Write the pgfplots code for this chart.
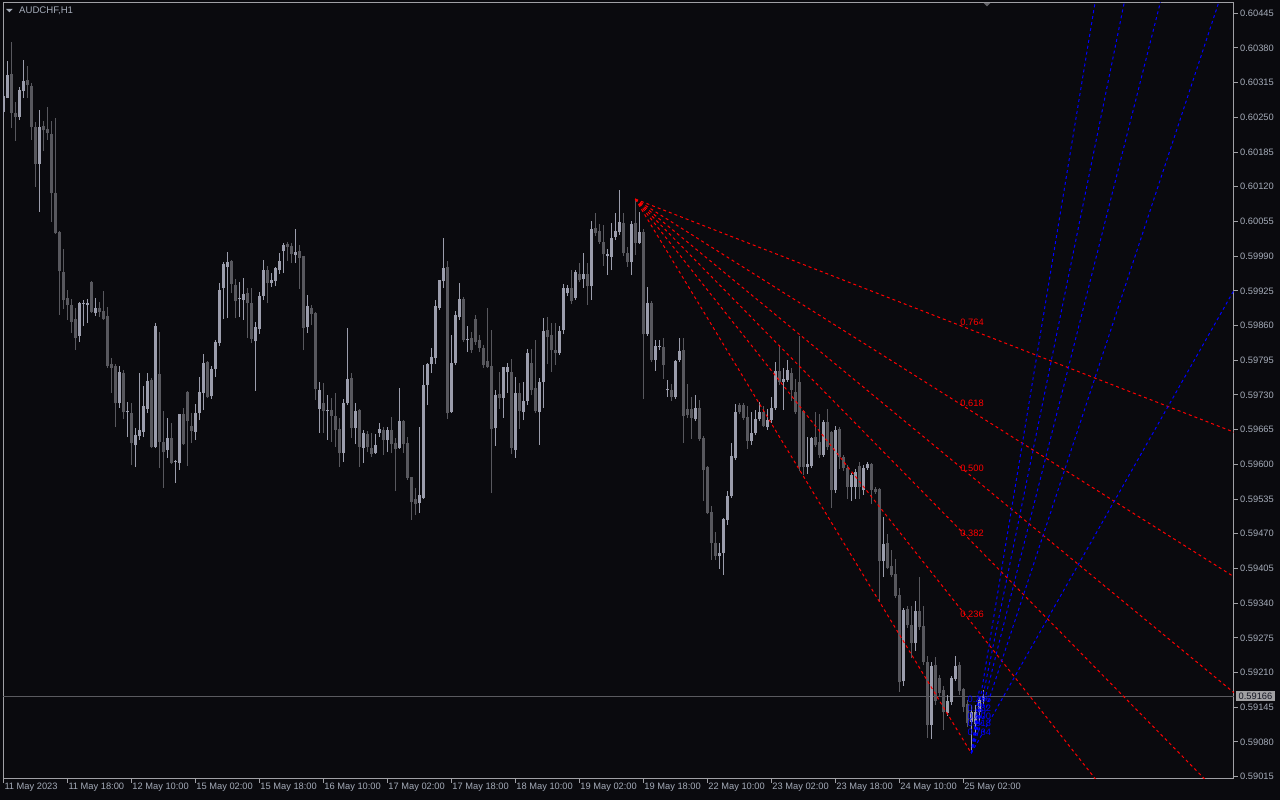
\documentclass[border=0pt]{standalone}
\usepackage{fontspec}
\setmainfont{Liberation Sans}
\usepackage{pgfplots}
\pgfplotsset{compat=1.18}
\usepackage{pgfplotstable}
\definecolor{bg}{RGB}{10,10,14}
\definecolor{framec}{RGB}{160,160,165}
\definecolor{txt}{RGB}{165,172,185}
\definecolor{bull}{RGB}{155,157,172}
\definecolor{bear}{RGB}{88,88,94}
\definecolor{pline}{RGB}{90,90,95}
\definecolor{boxc}{RGB}{160,160,162}
\definecolor{boxt}{RGB}{20,22,34}
\definecolor{fred}{RGB}{255,0,0}
\definecolor{fblue}{RGB}{0,0,255}
\tikzset{
  fanred/.style={draw=fred, line width=1pt, dash pattern=on 3pt off 3pt},
  fanblue/.style={draw=fblue, line width=1pt, dash pattern=on 3pt off 3pt},
  fanlab/.style={anchor=south, inner sep=0pt, yshift=4.5pt, font=\fontsize{9.3}{11}\selectfont, text=fred},
  fanlabb/.style={anchor=south, inner sep=0pt, yshift=1.5pt, font=\fontsize{9.3}{11}\selectfont, text=fblue},
}
\pgfplotstableread{
i o h l c
0 0.60261 0.60305 0.60251 0.60289
1 0.60287 0.60356 0.60286 0.60328
2 0.60330 0.60391 0.60230 0.60259
3 0.60258 0.60279 0.60206 0.60251
4 0.60251 0.60307 0.60245 0.60301
5 0.60300 0.60358 0.60286 0.60318
6 0.60320 0.60346 0.60286 0.60311
7 0.60309 0.60314 0.60208 0.60232
8 0.60232 0.60241 0.60120 0.60163
9 0.60163 0.60264 0.60073 0.60232
10 0.60234 0.60243 0.60187 0.60226
11 0.60228 0.60270 0.60208 0.60221
12 0.60219 0.60243 0.60054 0.60108
13 0.60108 0.60249 0.60032 0.60033
14 0.60035 0.60037 0.59880 0.59962
15 0.59960 0.60004 0.59891 0.59908
16 0.59912 0.59927 0.59871 0.59899
17 0.59899 0.59910 0.59846 0.59867
18 0.59871 0.59893 0.59814 0.59837
19 0.59841 0.59904 0.59829 0.59902
20 0.59901 0.59908 0.59859 0.59902
21 0.59900 0.59910 0.59865 0.59901
22 0.59942 0.59944 0.59884 0.59886
23 0.59884 0.59912 0.59878 0.59893
24 0.59893 0.59904 0.59876 0.59886
25 0.59887 0.59925 0.59871 0.59872
26 0.59878 0.59895 0.59781 0.59784
27 0.59788 0.59799 0.59734 0.59781
28 0.59784 0.59788 0.59670 0.59715
29 0.59715 0.59784 0.59706 0.59773
30 0.59771 0.59777 0.59685 0.59698
31 0.59698 0.59717 0.59651 0.59699
32 0.59696 0.59715 0.59599 0.59640
33 0.59636 0.59668 0.59595 0.59655
34 0.59653 0.59771 0.59646 0.59663
35 0.59661 0.59747 0.59651 0.59708
36 0.59704 0.59771 0.59696 0.59756
37 0.59758 0.59762 0.59631 0.59633
38 0.59633 0.59865 0.59631 0.59859
39 0.59769 0.59848 0.59593 0.59642
40 0.59642 0.59700 0.59556 0.59623
41 0.59627 0.59687 0.59612 0.59648
42 0.59648 0.59678 0.59601 0.59603
43 0.59605 0.59608 0.59565 0.59606
44 0.59603 0.59694 0.59590 0.59693
45 0.59693 0.59706 0.59636 0.59638
46 0.59736 0.59737 0.59597 0.59681
47 0.59672 0.59696 0.59640 0.59663
48 0.59661 0.59713 0.59646 0.59696
49 0.59696 0.59764 0.59683 0.59736
50 0.59734 0.59807 0.59702 0.59790
51 0.59792 0.59794 0.59724 0.59726
52 0.59728 0.59784 0.59723 0.59779
53 0.59779 0.59833 0.59764 0.59829
54 0.59827 0.59940 0.59822 0.59927
55 0.59930 0.59979 0.59872 0.59974
56 0.59970 0.59998 0.59874 0.59979
57 0.59981 0.59983 0.59921 0.59938
58 0.59936 0.59947 0.59874 0.59906
59 0.59910 0.59942 0.59876 0.59911
60 0.59908 0.59949 0.59871 0.59919
61 0.59921 0.59930 0.59837 0.59902
62 0.59902 0.59930 0.59827 0.59835
63 0.59831 0.59867 0.59738 0.59856
64 0.59854 0.59923 0.59844 0.59915
65 0.59915 0.59983 0.59908 0.59964
66 0.59964 0.59972 0.59902 0.59940
67 0.59940 0.59959 0.59932 0.59944
68 0.59944 0.59969 0.59934 0.59968
69 0.59964 0.59996 0.59957 0.59981
70 0.60000 0.60015 0.59959 0.60011
71 0.60013 0.60017 0.59981 0.60007
72 0.60009 0.60015 0.59977 0.59994
73 0.59992 0.60041 0.59977 0.59998
74 0.60000 0.60011 0.59929 0.59987
75 0.59989 0.59990 0.59814 0.59856
76 0.59857 0.59917 0.59846 0.59897
77 0.59893 0.59899 0.59861 0.59882
78 0.59884 0.59886 0.59721 0.59741
79 0.59705 0.59754 0.59659 0.59739
80 0.59715 0.59753 0.59659 0.59700
81 0.59700 0.59730 0.59646 0.59702
82 0.59702 0.59724 0.59642 0.59691
83 0.59691 0.59734 0.59633 0.59665
84 0.59666 0.59687 0.59595 0.59621
85 0.59621 0.59723 0.59605 0.59715
86 0.59715 0.59856 0.59711 0.59760
87 0.59762 0.59771 0.59650 0.59668
88 0.59668 0.59715 0.59638 0.59700
89 0.59702 0.59703 0.59595 0.59633
90 0.59631 0.59665 0.59603 0.59659
91 0.59657 0.59663 0.59623 0.59633
92 0.59631 0.59659 0.59614 0.59620
93 0.59621 0.59657 0.59620 0.59636
94 0.59659 0.59678 0.59651 0.59666
95 0.59663 0.59670 0.59618 0.59646
96 0.59646 0.59670 0.59623 0.59663
97 0.59663 0.59689 0.59621 0.59638
98 0.59640 0.59650 0.59550 0.59629
99 0.59631 0.59743 0.59629 0.59681
100 0.59681 0.59683 0.59621 0.59638
101 0.59640 0.59651 0.59571 0.59575
102 0.59575 0.59576 0.59496 0.59530
103 0.59535 0.59556 0.59505 0.59526
104 0.59528 0.59670 0.59509 0.59543
105 0.59537 0.59786 0.59536 0.59749
106 0.59749 0.59789 0.59711 0.59788
107 0.59788 0.59818 0.59771 0.59801
108 0.59799 0.59908 0.59788 0.59897
109 0.59893 0.59946 0.59889 0.59944
110 0.59944 0.60024 0.59930 0.59968
111 0.59970 0.59981 0.59685 0.59696
112 0.59698 0.59842 0.59696 0.59790
113 0.59790 0.59887 0.59786 0.59880
114 0.59876 0.59940 0.59871 0.59910
115 0.59910 0.59914 0.59829 0.59833
116 0.59833 0.59859 0.59811 0.59834
117 0.59837 0.59848 0.59809 0.59814
118 0.59872 0.59880 0.59824 0.59829
119 0.59833 0.59842 0.59811 0.59818
120 0.59818 0.59824 0.59781 0.59786
121 0.59794 0.59893 0.59781 0.59782
122 0.59784 0.59852 0.59546 0.59666
123 0.59668 0.59739 0.59635 0.59730
124 0.59732 0.59773 0.59704 0.59724
125 0.59724 0.59782 0.59687 0.59781
126 0.59773 0.59790 0.59734 0.59782
127 0.59773 0.59797 0.59620 0.59631
128 0.59627 0.59764 0.59612 0.59734
129 0.59734 0.59753 0.59666 0.59700
130 0.59698 0.59754 0.59683 0.59719
131 0.59719 0.59816 0.59711 0.59809
132 0.59790 0.59816 0.59730 0.59739
133 0.59743 0.59833 0.59696 0.59700
134 0.59698 0.59762 0.59636 0.59754
135 0.59754 0.59874 0.59706 0.59850
136 0.59852 0.59876 0.59788 0.59839
137 0.59841 0.59865 0.59773 0.59814
138 0.59814 0.59865 0.59786 0.59809
139 0.59809 0.59859 0.59805 0.59850
140 0.59852 0.59938 0.59844 0.59929
141 0.59921 0.59936 0.59915 0.59930
142 0.59929 0.59964 0.59900 0.59906
143 0.59912 0.59964 0.59908 0.59959
144 0.59957 0.59977 0.59942 0.59946
145 0.59947 0.59996 0.59930 0.59957
146 0.59957 0.59977 0.59899 0.59934
147 0.59934 0.60056 0.59908 0.60041
148 0.60043 0.60071 0.60028 0.60033
149 0.60037 0.60050 0.60013 0.60017
150 0.60017 0.60048 0.59972 0.59994
151 0.59990 0.60004 0.59955 0.59994
152 0.59989 0.60052 0.59964 0.60024
153 0.60026 0.60071 0.60020 0.60037
154 0.60035 0.60114 0.60030 0.60054
155 0.60052 0.60071 0.59990 0.59996
156 0.59996 0.60007 0.59970 0.59979
157 0.59979 0.60056 0.59955 0.60050
158 0.60052 0.60097 0.59992 0.60015
159 0.60016 0.60073 0.60013 0.60035
160 0.60035 0.60041 0.59723 0.59844
161 0.59844 0.59932 0.59841 0.59901
162 0.59902 0.59906 0.59792 0.59796
163 0.59796 0.59833 0.59775 0.59822
164 0.59820 0.59833 0.59814 0.59821
165 0.59820 0.59837 0.59760 0.59786
166 0.59739 0.59758 0.59726 0.59740
167 0.59739 0.59751 0.59719 0.59726
168 0.59726 0.59796 0.59723 0.59794
169 0.59796 0.59837 0.59792 0.59811
170 0.59814 0.59837 0.59640 0.59691
171 0.59704 0.59751 0.59687 0.59693
172 0.59704 0.59726 0.59648 0.59687
173 0.59685 0.59730 0.59681 0.59706
174 0.59706 0.59721 0.59644 0.59648
175 0.59648 0.59653 0.59531 0.59590
176 0.59595 0.59597 0.59507 0.59509
177 0.59511 0.59522 0.59421 0.59453
178 0.59453 0.59473 0.59421 0.59428
179 0.59428 0.59453 0.59404 0.59434
180 0.59434 0.59500 0.59393 0.59498
181 0.59496 0.59550 0.59487 0.59541
182 0.59541 0.59640 0.59537 0.59616
183 0.59612 0.59713 0.59608 0.59698
184 0.59711 0.59715 0.59694 0.59698
185 0.59710 0.59715 0.59683 0.59687
186 0.59689 0.59710 0.59629 0.59644
187 0.59644 0.59698 0.59636 0.59659
188 0.59659 0.59702 0.59655 0.59685
189 0.59685 0.59717 0.59681 0.59698
190 0.59698 0.59710 0.59670 0.59672
191 0.59670 0.59704 0.59665 0.59683
192 0.59683 0.59726 0.59678 0.59706
193 0.59706 0.59792 0.59702 0.59775
194 0.59775 0.59824 0.59749 0.59754
195 0.59754 0.59781 0.59702 0.59760
196 0.59758 0.59796 0.59754 0.59777
197 0.59771 0.59781 0.59719 0.59739
198 0.59736 0.59760 0.59694 0.59698
199 0.59754 0.59841 0.59588 0.59595
200 0.59700 0.59702 0.59580 0.59595
201 0.59595 0.59651 0.59582 0.59601
202 0.59597 0.59651 0.59593 0.59648
203 0.59651 0.59698 0.59633 0.59636
204 0.59642 0.59694 0.59612 0.59618
205 0.59618 0.59683 0.59614 0.59679
206 0.59679 0.59704 0.59627 0.59633
207 0.59661 0.59663 0.59518 0.59552
208 0.59552 0.59672 0.59546 0.59663
209 0.59665 0.59670 0.59591 0.59614
210 0.59614 0.59618 0.59588 0.59593
211 0.59593 0.59599 0.59535 0.59558
212 0.59558 0.59584 0.59531 0.59580
213 0.59558 0.59591 0.59535 0.59586
214 0.59597 0.59605 0.59535 0.59558
215 0.59552 0.59599 0.59543 0.59593
216 0.59593 0.59605 0.59590 0.59601
217 0.59601 0.59603 0.59526 0.59552
218 0.59554 0.59558 0.59545 0.59548
219 0.59554 0.59556 0.59342 0.59419
220 0.59419 0.59502 0.59389 0.59451
221 0.59453 0.59470 0.59404 0.59406
222 0.59410 0.59440 0.59389 0.59393
223 0.59395 0.59423 0.59350 0.59354
224 0.59354 0.59369 0.59174 0.59192
225 0.59194 0.59331 0.59185 0.59327
226 0.59329 0.59335 0.59294 0.59299
227 0.59299 0.59335 0.59237 0.59265
228 0.59265 0.59344 0.59250 0.59325
229 0.59324 0.59389 0.59290 0.59296
230 0.59296 0.59335 0.59224 0.59230
231 0.59230 0.59241 0.59088 0.59112
232 0.59112 0.59230 0.59086 0.59222
233 0.59224 0.59239 0.59149 0.59157
234 0.59200 0.59206 0.59166 0.59172
235 0.59176 0.59185 0.59103 0.59136
236 0.59134 0.59168 0.59129 0.59157
237 0.59155 0.59204 0.59149 0.59200
238 0.59198 0.59241 0.59194 0.59222
239 0.59224 0.59230 0.59168 0.59176
240 0.59178 0.59181 0.59136 0.59146
241 0.59151 0.59159 0.59108 0.59116
242 0.59118 0.59149 0.59059 0.59136
243 0.59114 0.59149 0.59093 0.59136
244 0.59136 0.59164 0.59118 0.59159
245 0.59159 0.59177 0.59149 0.59166
}\candles
\begin{document}
\begin{tikzpicture}[x=1pt,y=1pt]
\useasboundingbox (0,0) rectangle (1280,800);
\fill[bg] (0,0) rectangle (1280,800);
\begin{axis}[
  at={(3pt,21pt)}, anchor=south west, scale only axis,
  width=1231pt, height=776pt,
  xmin=-0.075, xmax=307.675, ymin=0.590107, ymax=0.604643,
  axis line style={draw=framec, line width=1pt},
  tick align=outside, xtick pos=bottom, ytick pos=right, yticklabel pos=right,
  major tick length=4pt, tick style={draw=framec, line width=1pt},
  xtick={0,16,...,240},
  xticklabels={11 May 2023,11 May 18:00,12 May 10:00,15 May 02:00,15 May 18:00,16 May 10:00,17 May 02:00,17 May 18:00,18 May 10:00,19 May 02:00,19 May 18:00,22 May 10:00,23 May 02:00,23 May 18:00,24 May 10:00,25 May 02:00},
  ytick={0.59015,0.59080,0.59145,0.59210,0.59275,0.59340,0.59405,0.59470,0.59535,0.59600,0.59665,0.59730,0.59795,0.59860,0.59925,0.59990,0.60055,0.60120,0.60185,0.60250,0.60315,0.60380,0.60445},
  yticklabels={0.59015,0.59080,0.59145,0.59210,0.59275,0.59340,0.59405,0.59470,0.59535,0.59600,0.59665,0.59730,0.59795,0.59860,0.59925,0.59990,0.60055,0.60120,0.60185,0.60250,0.60315,0.60380,0.60445},
  scaled y ticks=false,
  ticklabel style={font=\fontsize{9.3}{11}\selectfont, text=txt, inner sep=0pt},
  xticklabel style={anchor=north west, xshift=1pt},
  yticklabel style={anchor=west, xshift=2pt},
  clip mode=individual,
]
% current price line
\addplot[draw=pline, line width=1pt, forget plot] coordinates {(-5,0.59166) (320,0.59166)};
% wicks
\addplot[forget plot, draw=none, mark=none,
  restrict expr to domain={\thisrow{c}-\thisrow{o}}{0:1},
  error bars/.cd, y dir=plus, y explicit, error mark=none,
  error bar style={draw=bull, line width=1pt, solid}]
  table[x=i, y=l, y error plus expr={\thisrow{h}-\thisrow{l}}] {\candles};
\addplot[forget plot, draw=none, mark=none,
  restrict expr to domain={\thisrow{o}-\thisrow{c}}{0.000001:1},
  error bars/.cd, y dir=plus, y explicit, error mark=none,
  error bar style={draw=bear, line width=1pt, solid}]
  table[x=i, y=l, y error plus expr={\thisrow{h}-\thisrow{l}}] {\candles};
% bodies
\addplot[forget plot, draw=none, mark=none,
  restrict expr to domain={\thisrow{c}-\thisrow{o}}{0:1},
  error bars/.cd, y dir=plus, y explicit, error mark=none,
  error bar style={draw=bull, line width=3pt, solid}]
  table[x=i, y expr={\thisrow{o}-0.000005}, y error plus expr={\thisrow{c}-\thisrow{o}+0.00001}] {\candles};
\addplot[forget plot, draw=none, mark=none,
  restrict expr to domain={\thisrow{o}-\thisrow{c}}{0.000001:1},
  error bars/.cd, y dir=plus, y explicit, error mark=none,
  error bar style={draw=bear, line width=3pt, solid}]
  table[x=i, y expr={\thisrow{c}-0.000005}, y error plus expr={\thisrow{o}-\thisrow{c}+0.00001}] {\candles};
% red fan (from high to low)
\addplot[fanred, forget plot] coordinates {(158,0.60097) (242,0.59059)};
\addplot[fanred, forget plot] coordinates {(158,0.60097) (400,0.57812)};
\addplot[fanred, forget plot] coordinates {(158,0.60097) (400,0.58250)};
\addplot[fanred, forget plot] coordinates {(158,0.60097) (400,0.58602)};
\addplot[fanred, forget plot] coordinates {(158,0.60097) (400,0.58953)};
\addplot[fanred, forget plot] coordinates {(158,0.60097) (400,0.59391)};
\node[fanlab] at (axis cs:242.2,0.59852) {0.764};
\node[fanlab] at (axis cs:242.2,0.59700) {0.618};
\node[fanlab] at (axis cs:242.2,0.59578) {0.500};
\node[fanlab] at (axis cs:242.2,0.59456) {0.382};
\node[fanlab] at (axis cs:242.2,0.59304) {0.236};
% blue fan (from low to high)
\addplot[fanblue, forget plot] coordinates {(242,0.59059) (244,0.59178)};
\addplot[fanblue, forget plot] coordinates {(242,0.59059) (280,0.60786)};
\addplot[fanblue, forget plot] coordinates {(242,0.59059) (290,0.60824)};
\addplot[fanblue, forget plot] coordinates {(242,0.59059) (300,0.60785)};
\addplot[fanblue, forget plot] coordinates {(242,0.59059) (310,0.60605)};
\addplot[fanblue, forget plot] coordinates {(242,0.59059) (320,0.60089)};
\node[fanlabb] at (axis cs:244,0.59150) {0.236};
\node[fanlabb] at (axis cs:244,0.59133) {0.382};
\node[fanlabb] at (axis cs:244,0.59119) {0.500};
\node[fanlabb] at (axis cs:244,0.59105) {0.618};
\node[fanlabb] at (axis cs:244,0.59088) {0.764};
% price box
\node[fill=boxc, text=boxt, inner xsep=2.5pt, inner ysep=2pt, anchor=west, xshift=2pt,
  font=\fontsize{9.3}{11}\selectfont] at ({rel axis cs:1,0}|-{axis cs:0,0.59166}) {0.59166};
\end{axis}
% chart title and markers
\fill[txt] (6,791) -- (12.7,791) -- (9.35,787.7) -- cycle;
\node[anchor=base west, inner sep=0pt, text=txt, font=\fontsize{9.6}{11}\selectfont] at (19,786) {AUDCHF,H1};
\fill[framec!60!bg] (983.5,797) -- (990.5,797) -- (987,793.5) -- cycle;
\end{tikzpicture}
\end{document}
